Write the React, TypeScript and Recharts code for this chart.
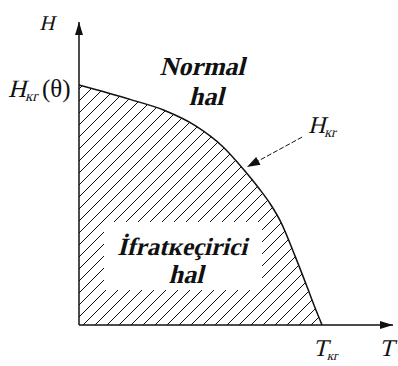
import React from "react";
import {
  ComposedChart,
  Area,
  XAxis,
  YAxis,
  ReferenceLine,
  ReferenceDot,
  ReferenceArea,
} from "recharts";

// Reduced temperature T / T_kr
const tValues = [0, 0.21, 0.35, 0.48, 0.59, 0.68, 0.74, 0.79, 0.83, 0.89, 0.94, 0.97, 1.0];
// Reduced critical field H_kr(T) / H_kr(0)
const hValues = [1.0, 0.94, 0.895, 0.83, 0.745, 0.645, 0.57, 0.5, 0.43, 0.285, 0.155, 0.075, 0];

const data = tValues.map((t, i) => ({ T: t, H: hValues[i] }));

const T_MAX = 1.292;
const H_MAX = 1.2625;

const SERIF = "Liberation Serif";
const INK = "#111";
const SLANT = -14;

type P = { cx?: number; cy?: number; x1?: number; y1?: number; x2?: number; y2?: number };

// Slanted serif text anchored at the dot position (baseline)
const slanted =
  (content: React.ReactNode, anchor: "start" | "middle" | "end", size: number, bold = false, tail?: React.ReactNode, tailDx = 0) =>
  (p: P) => (
    <g transform={`translate(${p.cx ?? 0},${p.cy ?? 0})`}>
      <text
        x={0}
        y={0}
        transform={`skewX(${SLANT})`}
        textAnchor={anchor}
        fill={INK}
        fontFamily={SERIF}
        fontSize={size}
        fontWeight={bold ? 700 : 400}
      >
        {content}
      </text>
      {tail ? (
        <text x={tailDx} y={0} fill={INK} fontFamily={SERIF} fontSize={size}>
          {tail}
        </text>
      ) : null}
    </g>
  );

const upArrow = (p: P) => {
  const x = p.cx ?? 0;
  const y = p.cy ?? 0;
  return <polygon points={`${x},${y} ${x - 4},${y + 13} ${x + 4},${y + 13}`} fill={INK} />;
};

const rightArrow = (p: P) => {
  const x = p.cx ?? 0;
  const y = p.cy ?? 0;
  return <polygon points={`${x},${y} ${x - 13},${y - 4} ${x - 13},${y + 4}`} fill={INK} />;
};

// Pointer from the H_kr label to the curve: dashed shaft with a filled head at (x2, y2)
const pointer = (p: P) => {
  const x1 = p.x1 ?? 0, y1 = p.y1 ?? 0, x2 = p.x2 ?? 0, y2 = p.y2 ?? 0;
  const ang = Math.atan2(y2 - y1, x2 - x1);
  const len = 13, half = 4.5;
  const bx = x2 - len * Math.cos(ang);
  const by = y2 - len * Math.sin(ang);
  const nx = -Math.sin(ang) * half;
  const ny = Math.cos(ang) * half;
  return (
    <g>
      <line x1={x1} y1={y1} x2={bx} y2={by} stroke={INK} strokeWidth={1} strokeDasharray="5 2" />
      <polygon points={`${x2},${y2} ${bx + nx},${by + ny} ${bx - nx},${by - ny}`} fill={INK} />
    </g>
  );
};

const withSub = (main: string, s: string, subSize = 14) => (
  <>
    <tspan>{main}</tspan>
    <tspan dy={4} fontSize={subSize}>
      {s}
    </tspan>
  </>
);

export default function App() {
  return (
    <div style={{ position: "absolute", left: 0, top: 0, width: 398, height: 366, background: "#fff" }}>
      <ComposedChart
        width={398}
        height={366}
        data={data}
        margin={{ top: 22, right: 5, bottom: 41, left: 79 }}
      >
        <defs>
          <pattern id="hatch" patternUnits="userSpaceOnUse" width={12} height={12}>
            <path d="M0,12 L12,0 M-3,3 L3,-3 M9,15 L15,9" stroke={INK} strokeWidth={1} />
          </pattern>
        </defs>
        <XAxis type="number" dataKey="T" domain={[0, T_MAX]} hide />
        <YAxis type="number" domain={[0, H_MAX]} hide />
        <Area
          type="monotone"
          dataKey="H"
          stroke={INK}
          strokeWidth={1.5}
          fill="url(#hatch)"
          fillOpacity={1}
          isAnimationActive={false}
          dot={false}
          activeDot={false}
        />
        <ReferenceArea x1={0.103} x2={0.753} y1={0.146} y2={0.429} fill="#fff" fillOpacity={1} stroke="none" />

        {/* axes */}
        <ReferenceLine segment={[{ x: 0, y: 0 }, { x: 0, y: H_MAX }]} stroke={INK} strokeWidth={1.5} />
        <ReferenceLine segment={[{ x: 0, y: 0 }, { x: T_MAX, y: 0 }]} stroke={INK} strokeWidth={1.5} />
        <ReferenceDot x={0} y={H_MAX} ifOverflow="visible" shape={upArrow} />
        <ReferenceDot x={T_MAX} y={0} ifOverflow="visible" shape={rightArrow} />

        {/* pointer to the critical-field curve */}
        <ReferenceLine
          segment={[{ x: 0.918, y: 0.783 }, { x: 0.691, y: 0.658 }]}
          ifOverflow="visible"
          shape={pointer}
        />

        {/* labels */}
        <ReferenceDot x={-0.132} y={1.229} ifOverflow="visible" shape={slanted("H", "middle", 21)} />
        <ReferenceDot
          x={-0.292}
          y={0.95}
          ifOverflow="visible"
          shape={slanted(withSub("H", "кr", 15), "start", 25, false, "(θ)", 34)}
        />
        <ReferenceDot x={0.506} y={1.042} ifOverflow="visible" shape={slanted("Normal", "middle", 26, true)} />
        <ReferenceDot x={0.523} y={0.917} ifOverflow="visible" shape={slanted("hal", "middle", 26, true)} />
        <ReferenceDot x={0.424} y={0.292} ifOverflow="visible" shape={slanted("İfratкeçirici", "middle", 25, true)} />
        <ReferenceDot x={0.44} y={0.175} ifOverflow="visible" shape={slanted("hal", "middle", 26, true)} />
        <ReferenceDot x={0.942} y={0.8} ifOverflow="visible" shape={slanted(withSub("H", "кr"), "start", 24)} />
        <ReferenceDot x={0.963} y={-0.13} ifOverflow="visible" shape={slanted(withSub("T", "кr", 13), "start", 24)} />
        <ReferenceDot x={1.235} y={-0.13} ifOverflow="visible" shape={slanted("T", "start", 24)} />
      </ComposedChart>
    </div>
  );
}
